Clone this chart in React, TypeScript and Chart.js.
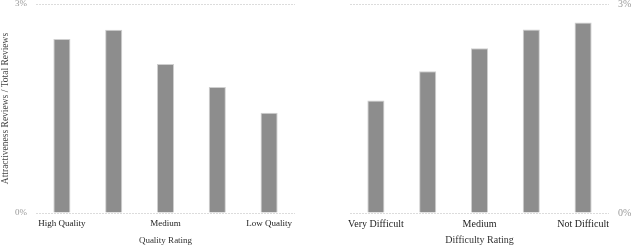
import React, { useEffect, useRef } from "react";
import { Chart, registerables } from "chart.js";

Chart.register(...registerables);

const qualityTickLabels = ["High Quality", "", "Medium", "", "Low Quality"];
const qualityValues = [2.5, 2.63, 2.14, 1.81, 1.44];
const difficultyTickLabels = ["Very Difficult", "", "Medium", "", "Not Difficult"];
const difficultyValues = [1.62, 2.04, 2.37, 2.64, 2.74];
const yTicks = [0, 3];
const yTitle = "Attractiveness Reviews / Total Reviews";
const qualityTitle = "Quality Rating";
const difficultyTitle = "Difficulty Rating";

const SERIF = "'Liberation Serif', 'Times New Roman', serif";

function makeConfig(labels: string[], values: number[], side: "left" | "right", xTitle: string, fs: number): any {
  const isLeft = side === "left";
  return {
    type: "bar",
    data: {
      labels,
      datasets: [
        {
          data: values,
          backgroundColor: "#8d8d8d",
          borderColor: "#cfcfcf",
          borderWidth: 1,
          barPercentage: 0.33,
          categoryPercentage: 1,
        },
      ],
    },
    options: {
      animation: false,
      responsive: false,
      devicePixelRatio: 1,
      layout: {
        padding: isLeft ? { left: 0, right: 25, top: 4, bottom: 0 } : { left: 30, right: 0, top: 4, bottom: 0 },
      },
      plugins: { legend: { display: false }, tooltip: { enabled: false } },
      scales: {
        x: {
          grid: { display: false, drawTicks: false },
          border: { display: false },
          ticks: {
            autoSkip: false,
            maxRotation: 0,
            padding: 5,
            color: "#222",
            font: { family: SERIF, size: fs },
          },
          title: {
            display: true,
            text: xTitle,
            color: "#333",
            padding: 0,
            font: { family: SERIF, size: fs, lineHeight: 1.1 },
          },
          afterFit: (s: any) => {
            s.height = 33;
          },
        },
        y: {
          position: side,
          min: 0,
          max: 3,
          afterBuildTicks: (s: any) => {
            s.ticks = yTicks.map((v) => ({ value: v }));
          },
          grid: {
            drawTicks: true,
            tickLength: 9,
            tickColor: "rgba(0,0,0,0)",
            color: "#dcdcdc",
            lineWidth: 1,
          },
          border: { display: false, dash: [2, 1] },
          ticks: {
            padding: 0,
            color: "#999",
            font: { family: SERIF, size: fs, lineHeight: 0.9 },
            callback: (v: any) => v + "%",
          },
          title: {
            display: isLeft,
            text: yTitle,
            color: "#444",
            padding: 0,
            font: { family: SERIF, size: 9.5, lineHeight: 1.2 },
          },
          afterFit: (s: any) => {
            s.width = isLeft ? 36 : 31;
          },
        },
      },
    },
  };
}

function Panel(props: { labels: string[]; values: number[]; side: "left" | "right"; title: string; fs: number }) {
  const ref = useRef<HTMLCanvasElement>(null);
  useEffect(() => {
    if (!ref.current) return;
    const chart = new Chart(ref.current, makeConfig(props.labels, props.values, props.side, props.title, props.fs));
    return () => chart.destroy();
  }, []);
  return <canvas ref={ref} width={320} height={246} style={{ display: "block", width: 320, height: 246 }} />;
}

export default function App() {
  return (
    <div style={{ position: "absolute", left: 0, top: 0, width: 640, height: 246, display: "flex", background: "#fff" }}>
      <Panel labels={qualityTickLabels} values={qualityValues} side="left" title={qualityTitle} fs={9} />
      <Panel labels={difficultyTickLabels} values={difficultyValues} side="right" title={difficultyTitle} fs={10} />
    </div>
  );
}
